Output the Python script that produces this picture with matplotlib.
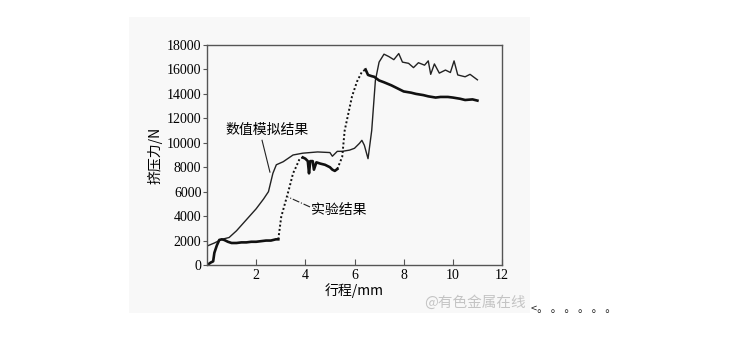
import matplotlib
matplotlib.use('Agg')
import matplotlib.pyplot as plt
from matplotlib.patches import Rectangle

#----------------------------------------------------------------------
# dữ liệu

# 数值模拟结果 (đường mảnh)
sim_x = [0.0, 0.3, 0.6, 0.9, 1.2, 1.6, 2.0, 2.3, 2.5, 2.68, 2.82, 3.1, 3.5, 3.9, 4.5,
         5.0, 5.1, 5.3, 5.5, 5.8, 6.0, 6.2, 6.3, 6.4, 6.55, 6.7, 6.85, 7.0, 7.2,
         7.4, 7.6, 7.8, 7.95, 8.2, 8.4, 8.6, 8.85, 9.0, 9.1, 9.25, 9.45, 9.7,
         9.9, 10.05, 10.2, 10.5, 10.7, 11.0]
sim_y = [1550, 1800, 2100, 2250, 2800, 3700, 4600, 5400, 6000, 7500, 8200, 8450, 9000,
         9150, 9250, 9200, 8900, 9300, 9300, 9400, 9550, 9950, 10200, 9800, 8700,
         11000, 15100, 16600, 17250, 17050, 16800, 17300, 16600, 16500, 16150,
         16550, 16350, 16700, 15600, 16450, 15700, 15950, 15750, 16700, 15550,
         15400, 15600, 15150]

# 实验结果 (đường đậm)
exp_x = [0.05, 0.15, 0.25, 0.3, 0.4, 0.5, 0.6, 0.7, 0.85, 1.0, 1.2, 1.4, 1.6, 1.8, 2.0,
         2.2, 2.4, 2.6, 2.8, 2.9,
         3.02, 3.23, 3.36, 3.5, 3.63, 3.77,
         3.9, 4.0, 4.1, 4.15, 4.2, 4.3, 4.35, 4.45, 4.6, 4.8, 5.0, 5.1, 5.2, 5.3,
         5.5, 5.6, 5.75, 5.9, 6.1, 6.3,
         6.45, 6.55, 6.7, 6.8, 7.0, 7.2, 7.5, 7.8, 8.0, 8.3, 8.5, 8.8, 9.0, 9.3,
         9.5, 9.8, 10.0, 10.3, 10.5, 10.8, 11.0]
exp_y = [50, 200, 300, 1000, 1600, 2050, 2100, 2050, 1900, 1800, 1800, 1850, 1850, 1900,
         1900, 1950, 2000, 2000, 2100, 2100,
         3950, 5450, 6400, 7500, 8050, 8700,
         8800, 8700, 8500, 7500, 8500, 8500, 7800, 8400, 8300, 8200, 8000, 7800, 7700,
         7850,
         8850, 11000, 12400, 13800, 15000, 15800,
         16000, 15550, 15450, 15400, 15100, 14950, 14700, 14400, 14200, 14100, 14000,
         13900, 13800, 13700, 13750, 13750, 13700, 13600, 13500, 13550, 13450]

# các đoạn nhảy (vẽ chấm) theo chỉ số trong exp_x
exp_jumps = [(19, 26), (39, 46)]

x_ticks = [2, 4, 6, 8, 10, 12]
y_ticks = list(range(0, 18001, 2000))

#----------------------------------------------------------------------
# vẽ biểu đồ
plt.rcParams['font.family'] = ['Liberation Serif', 'Noto Sans CJK SC']
cjk = ['Noto Sans CJK SC', 'DejaVu Sans']

fig = plt.figure(figsize=(7.3, 3.52), dpi=100)
fig.patches.append(Rectangle((129 / 730, 39 / 352), 401 / 730, 296 / 352,
                             transform=fig.transFigure, facecolor='#f8f8f8',
                             edgecolor='none', zorder=-10))
ax = fig.add_axes([207 / 730, 87 / 352, 295 / 730, 220 / 352])
ax.set_facecolor('none')
ax.set_zorder(5)

ax.plot(sim_x, sim_y, color='#222222', lw=1.0)

# đường thực nghiệm: đoạn liền + đoạn chấm
start = 0
for a, b in exp_jumps:
    ax.plot(exp_x[start:a + 1], exp_y[start:a + 1], color='#111111', lw=1.9)
    ax.plot(exp_x[a:b + 1], exp_y[a:b + 1], color='#111111', lw=1.4, ls=(0, (1, 1.2)))
    start = b
ax.plot(exp_x[start:], exp_y[start:], color='#111111', lw=1.9)

ax.set_xlim(0, 12)
ax.set_ylim(0, 18000)
ax.set_xticks(x_ticks)
ax.set_yticks(y_ticks)
ax.tick_params(axis='x', direction='in', length=4, labelsize=10, pad=3, color='#555555')
ax.tick_params(axis='y', direction='out', length=3, labelsize=10, pad=1, color='#555555')
for s in ax.spines.values():
    s.set_color('#555555')
    s.set_linewidth(1.0)

ax.set_xlabel('行程/mm', fontsize=10, family=cjk, labelpad=1)
ax.set_ylabel('挤压力/N', fontsize=10, family=cjk, labelpad=3)

# chú thích
ax.text(2.44, 11050, '数值模拟结果', fontsize=10, family=cjk, ha='center', va='center')
ax.plot([2.24, 2.56], [10200, 7600], color='#222222', lw=0.8)
ax.text(5.37, 4500, '实验结果', fontsize=10, family=cjk, ha='center', va='center')
ax.plot([4.19, 3.3], [4750, 5560], color='#222222', lw=0.8, ls='-.')

# watermark
fig.text(424 / 730, 1 - 303 / 352, '@有色金属在线', fontsize=10.5, family=cjk,
         color='#c4c4c4', ha='left', va='center')
fig.text(531 / 730, 1 - 309 / 352, '<。 。 。 。 。 。', fontsize=8, family=cjk,
         color='#222222', ha='left', va='center')

plt.savefig('out.png', dpi=100, facecolor='white')
